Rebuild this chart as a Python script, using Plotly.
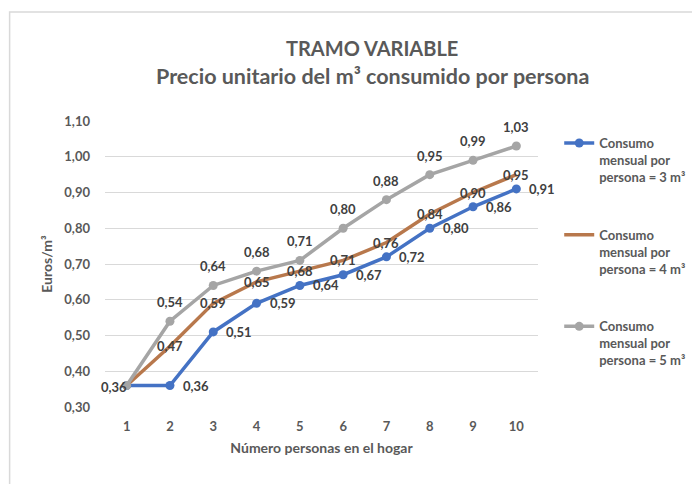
import plotly.graph_objects as go

personas = [1, 2, 3, 4, 5, 6, 7, 8, 9, 10]
consumo_3 = [0.36, 0.36, 0.51, 0.59, 0.64, 0.67, 0.72, 0.80, 0.86, 0.91]
consumo_4 = [0.36, 0.47, 0.59, 0.65, 0.68, 0.71, 0.76, 0.84, 0.90, 0.95]
consumo_5 = [0.36, 0.54, 0.64, 0.68, 0.71, 0.80, 0.88, 0.95, 0.99, 1.03]
series_names = ["Consumo<br>mensual por<br>persona = 3 m³",
                "Consumo<br>mensual por<br>persona = 4 m³",
                "Consumo<br>mensual por<br>persona = 5 m³"]
y_ticks = [0.30, 0.40, 0.50, 0.60, 0.70, 0.80, 0.90, 1.00, 1.10]

FONT = "Lato"
TXT = "#595959"
colors = ["#4472C4", "#B8784C", "#A5A5A5"]

fig = go.Figure()
all_series = [consumo_3, consumo_4, consumo_5]
for i, (vals, name) in enumerate(zip(all_series, series_names)):
    fig.add_trace(go.Scatter(
        x=personas, y=vals, name=name, mode="lines+markers" if i != 1 else "lines",
        line=dict(color=colors[i], width=3.5),
        marker=dict(size=9, color=colors[i]),
        legendgroup=f"g{i}",
    ))

def fmt(v):
    return f"{v:.2f}".replace(".", ",")

annos = []
# blue: right of point, first label left of point
for j, (x, v) in enumerate(zip(personas, consumo_3)):
    if j == 0:
        annos.append(dict(x=x, y=v, text=fmt(v), xanchor="right", yanchor="middle", xshift=2, yshift=-1))
    else:
        annos.append(dict(x=x, y=v, text=fmt(v), xanchor="left", yanchor="middle", xshift=11))
# brown: centered on point (skip first)
for j, (x, v) in enumerate(zip(personas, consumo_4)):
    if j == 0:
        continue
    annos.append(dict(x=x, y=v, text=fmt(v), xanchor="center", yanchor="middle"))
# gray: above point (skip first)
for j, (x, v) in enumerate(zip(personas, consumo_5)):
    if j == 0:
        continue
    annos.append(dict(x=x, y=v, text=fmt(v), xanchor="center", yanchor="bottom", yshift=9))

for a in annos:
    a.update(xref="x", yref="y", showarrow=False,
             font=dict(family=FONT, size=13, color="#404040", weight="bold"))

# Chart title
annos.append(dict(xref="paper", yref="paper", x=(372 - 104.5) / 433.5, y=(407 - 48) / 286,
                  text="<b>TRAMO VARIABLE</b>", showarrow=False, xanchor="center", yanchor="middle",
                  font=dict(family=FONT, size=20, color=TXT)))
annos.append(dict(xref="paper", yref="paper", x=(372 - 104.5) / 433.5, y=(407 - 76) / 286,
                  text="<b>Precio unitario del m³ consumido por persona</b>", showarrow=False,
                  xanchor="center", yanchor="middle",
                  font=dict(family=FONT, size=21.5, color=TXT)))
fig.update_layout(annotations=annos)

fig.update_layout(
    width=700, height=484,
    margin=dict(l=96.5, r=170, t=113, b=85),
    paper_bgcolor="white", plot_bgcolor="white",
    font=dict(family=FONT, color=TXT),
    showlegend=True,
    legend=dict(x=1.049, xanchor="left", y=(407 - 128) / 286, yanchor="top",
                tracegroupgap=38, valign="top",
                font=dict(family=FONT, size=13, color=TXT, weight="bold"),
                bgcolor="rgba(0,0,0,0)"),
    xaxis=dict(range=[0.5, 10.5], tickmode="array", tickvals=personas,
               ticktext=[str(p) for p in personas], showgrid=False, zeroline=False,
               showline=False, ticks="", ticklabelstandoff=10, automargin=False,
               tickfont=dict(family=FONT, size=13, color=TXT, weight="bold"),
               title=dict(text="<b>Número personas en el hogar</b>", standoff=10,
                          font=dict(family=FONT, size=14, color=TXT))),
    yaxis=dict(range=[0.30, 1.10], tickmode="array", tickvals=y_ticks,
               ticktext=[fmt(t) for t in y_ticks], showgrid=True, gridcolor="#D9D9D9",
               gridwidth=1, zeroline=False, showline=False, ticks="", ticklabelstandoff=14,
               automargin=False,
               tickfont=dict(family=FONT, size=13, color=TXT, weight="bold"),
               title=dict(text="<b>Euros/m³</b>", standoff=8,
                          font=dict(family=FONT, size=14, color=TXT))),
)

# outer frame of the chart area
fig.add_shape(type="rect", xref="paper", yref="paper",
              x0=(9 - 104.5) / 433.5, x1=(720 - 104.5) / 433.5,
              y0=(407 - 500) / 286, y1=(407 - 12) / 286,
              line=dict(color="#D9D9D9", width=1.5), fillcolor="rgba(0,0,0,0)", layer="below")

fig.write_html("out.html")
